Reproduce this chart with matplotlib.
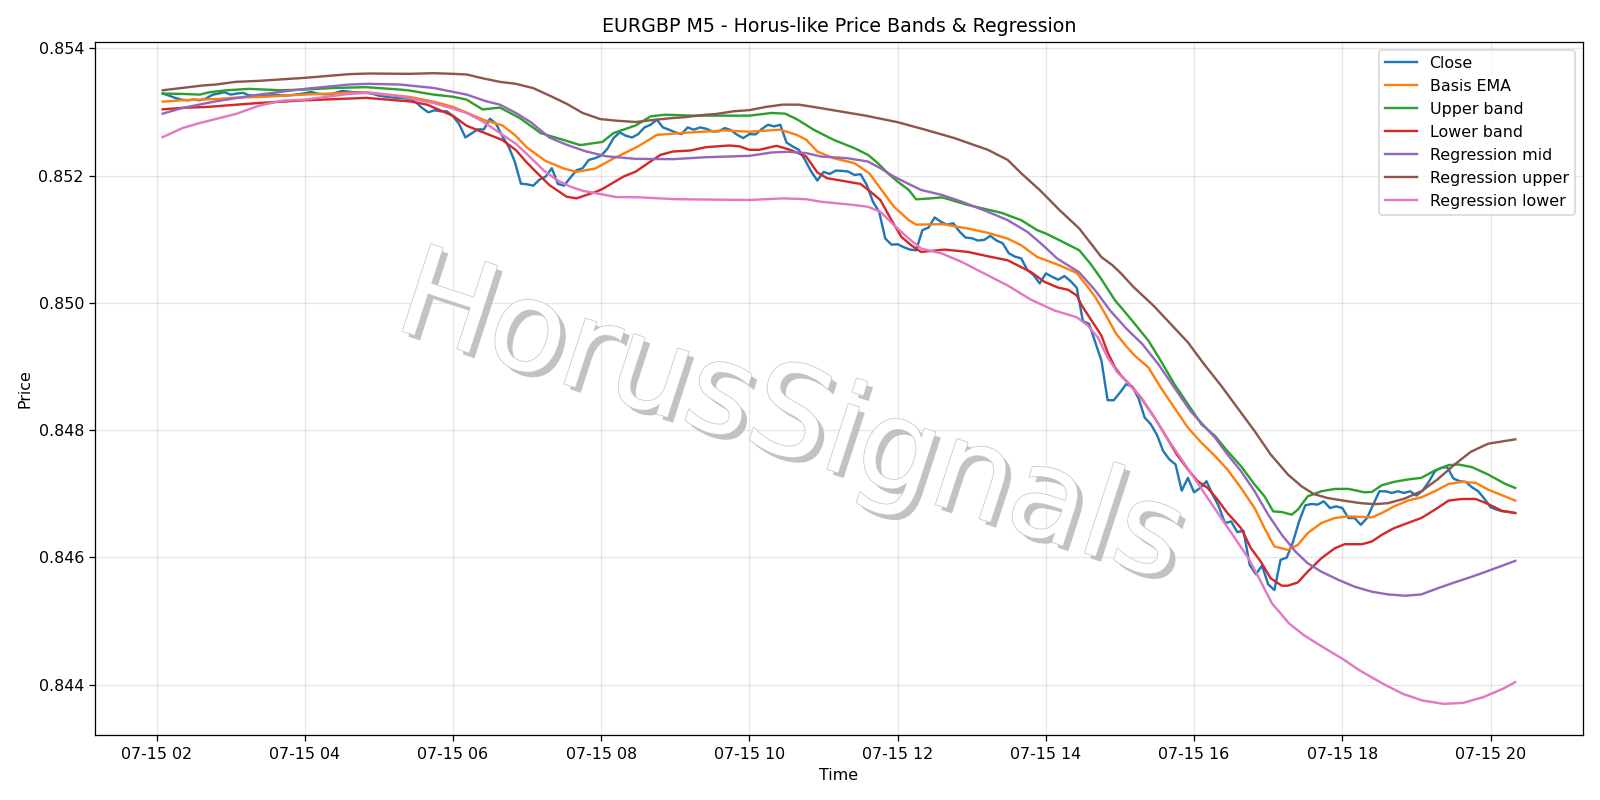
import matplotlib
matplotlib.use("Agg")
import matplotlib.dates as mdates
import matplotlib.patheffects as pe
import matplotlib.pyplot as plt
import pandas as pd

DAY = "2025-07-15 "

# EURGBP M5 closes, 02:05 -> 20:20
close_start = "02:05"
close_vals = [
    0.853290, 0.853258, 0.853222, 0.853195, 0.853184, 0.853195, 0.853184, 0.853211, 0.853269, 0.853290,
    0.853311, 0.853274, 0.853290, 0.853301, 0.853263, 0.853258, 0.853247, 0.853258, 0.853274, 0.853263,
    0.853258, 0.853269, 0.853279, 0.853295, 0.853316, 0.853290, 0.853279, 0.853279, 0.853301, 0.853332,
    0.853321, 0.853311, 0.853311, 0.853301, 0.853285, 0.853258, 0.853242, 0.853231, 0.853222, 0.853216,
    0.853206, 0.853153, 0.853064, 0.852995, 0.853027, 0.853011, 0.853011, 0.852935, 0.852811, 0.852600,
    0.852663, 0.852727, 0.852727, 0.852895, 0.852811, 0.852616, 0.852458, 0.852221, 0.851874, 0.851864,
    0.851843, 0.851937, 0.851985, 0.852117, 0.851869, 0.851843, 0.851969, 0.852085, 0.852117, 0.852248,
    0.852274, 0.852316, 0.852422, 0.852590, 0.852680, 0.852627, 0.852600, 0.852653, 0.852758, 0.852800,
    0.852879, 0.852758, 0.852722, 0.852680, 0.852653, 0.852758, 0.852722, 0.852758, 0.852737, 0.852695,
    0.852695, 0.852748, 0.852716, 0.852643, 0.852590, 0.852653, 0.852648, 0.852733, 0.852800, 0.852774,
    0.852800, 0.852521, 0.852458, 0.852406, 0.852248, 0.852064, 0.851922, 0.852059, 0.852027, 0.852080,
    0.852075, 0.852064, 0.852011, 0.852022, 0.851854, 0.851590, 0.851432, 0.851011, 0.850916, 0.850922,
    0.850875, 0.850838, 0.850827, 0.851143, 0.851185, 0.851343, 0.851275, 0.851227, 0.851253, 0.851122,
    0.851027, 0.851017, 0.850980, 0.850990, 0.851054, 0.850980, 0.850938, 0.850780, 0.850727, 0.850701,
    0.850517, 0.850438, 0.850306, 0.850464, 0.850411, 0.850365, 0.850422, 0.850343, 0.850239, 0.849712,
    0.849670, 0.849381, 0.849092, 0.848471, 0.848471, 0.848591, 0.848723, 0.848681, 0.848503, 0.848197,
    0.848092, 0.847924, 0.847671, 0.847540, 0.847461, 0.847050, 0.847250, 0.847024, 0.847092, 0.847198,
    0.846988, 0.846803, 0.846540, 0.846566, 0.846398, 0.846420, 0.845883, 0.845735, 0.845872, 0.845577,
    0.845488, 0.845962, 0.845998, 0.846240, 0.846566, 0.846819, 0.846840, 0.846830, 0.846882, 0.846777,
    0.846803, 0.846777, 0.846619, 0.846619, 0.846513, 0.846619, 0.846830, 0.847040, 0.847040, 0.847014,
    0.847040, 0.847014, 0.847040, 0.846972, 0.847050, 0.847187, 0.847355, 0.847408, 0.847418, 0.847240,
    0.847198, 0.847187, 0.847103, 0.847040, 0.846924, 0.846788, 0.846751, 0.846724, 0.846714, 0.846698,
]

basis_t = ["02:05", "02:20", "02:35", "02:50", "03:05", "03:25", "04:00", "04:35", "04:50", "05:15",
           "05:25", "05:45", "06:00", "06:10", "06:25", "06:40", "06:50", "07:00", "07:15", "07:30",
           "07:40", "07:55", "08:10", "08:30", "08:45", "09:05", "09:40", "10:00", "10:25", "10:38",
           "10:46", "10:55", "11:08", "11:25", "11:37", "11:46", "11:57", "12:09", "12:15", "12:36",
           "12:57", "13:13", "13:29", "13:40", "13:53", "14:11", "14:25", "14:34", "14:40", "14:48",
           "14:57", "15:05", "15:12", "15:23", "15:33", "15:44", "15:55", "16:06", "16:17", "16:27",
           "16:38", "16:49", "16:57", "17:05", "17:16", "17:24", "17:32", "17:43", "17:54", "18:05",
           "18:24", "18:32", "18:42", "18:53", "19:04", "19:15", "19:26", "19:37", "19:48", "19:58",
           "20:20"]
basis_v = [0.853163, 0.853184, 0.853195, 0.853206, 0.853227, 0.853237, 0.853274, 0.853301, 0.853311, 0.853258,
           0.853237, 0.853160, 0.853080, 0.853000, 0.852875, 0.852790, 0.852640, 0.852440, 0.852230, 0.852110,
           0.852060, 0.852110, 0.852270, 0.852460, 0.852640, 0.852670, 0.852711, 0.852690, 0.852722, 0.852643,
           0.852564, 0.852379, 0.852275, 0.852196, 0.852038, 0.851801, 0.851511, 0.851301, 0.851230, 0.851238,
           0.851169, 0.851101, 0.851011, 0.850906, 0.850722, 0.850591, 0.850470, 0.850250, 0.850091, 0.849828,
           0.849512, 0.849320, 0.849170, 0.848986, 0.848670, 0.848354, 0.848039, 0.847802, 0.847592, 0.847382,
           0.847092, 0.846776, 0.846461, 0.846172, 0.846119, 0.846198, 0.846383, 0.846541, 0.846620, 0.846646,
           0.846630, 0.846698, 0.846803, 0.846893, 0.846945, 0.847040, 0.847155, 0.847188, 0.847172, 0.847067,
           0.846893]

upper_t = ["02:05", "02:20", "02:35", "02:43", "02:57", "03:15", "03:40", "04:00", "04:25", "04:50",
           "05:17", "05:25", "05:44", "06:00", "06:11", "06:24", "06:38", "06:54", "07:11", "07:18",
           "07:29", "07:43", "08:01", "08:10", "08:28", "08:40", "08:52", "09:14", "10:00", "10:18",
           "10:29", "10:39", "10:52", "11:08", "11:25", "11:36", "11:44", "11:52", "12:00", "12:09",
           "12:15", "12:25", "12:36", "12:57", "13:24", "13:40", "13:53", "14:00", "14:11", "14:27",
           "14:36", "14:44", "14:56", "15:03", "15:12", "15:23", "15:33", "15:44", "15:55", "16:06",
           "16:17", "16:27", "16:38", "16:49", "16:57", "17:04", "17:11", "17:19", "17:24", "17:32",
           "17:43", "17:54", "18:05", "18:18", "18:24", "18:32", "18:42", "18:53", "19:04", "19:15",
           "19:26", "19:34", "19:45", "19:58", "20:12", "20:20"]
upper_v = [0.853290, 0.853285, 0.853274, 0.853311, 0.853342, 0.853364, 0.853342, 0.853353, 0.853379, 0.853390,
           0.853353, 0.853337, 0.853274, 0.853240, 0.853195, 0.853040, 0.853070, 0.852906, 0.852669, 0.852627,
           0.852564, 0.852480, 0.852530, 0.852669, 0.852790, 0.852932, 0.852958, 0.852943, 0.852943, 0.852985,
           0.852974, 0.852880, 0.852722, 0.852564, 0.852432, 0.852327, 0.852196, 0.852038, 0.851906, 0.851775,
           0.851628, 0.851640, 0.851659, 0.851538, 0.851416, 0.851301, 0.851143, 0.851091, 0.850985, 0.850828,
           0.850618, 0.850400, 0.850040, 0.849881, 0.849670, 0.849407, 0.849092, 0.848724, 0.848408, 0.848092,
           0.847908, 0.847671, 0.847434, 0.847146, 0.846961, 0.846724, 0.846714, 0.846672, 0.846751, 0.846961,
           0.847040, 0.847077, 0.847077, 0.847024, 0.847030, 0.847135, 0.847188, 0.847225, 0.847251, 0.847367,
           0.847451, 0.847461, 0.847419, 0.847304, 0.847155, 0.847092]

lower_t = ["02:05", "02:20", "02:40", "02:48", "03:05", "03:23", "04:00", "04:35", "04:50", "05:17",
           "05:25", "05:39", "06:00", "06:11", "06:19", "06:40", "06:51", "06:59", "07:07", "07:18",
           "07:32", "07:40", "07:56", "08:01", "08:18", "08:28", "08:39", "08:48", "08:58", "09:12",
           "09:25", "09:44", "09:52", "10:00", "10:08", "10:22", "10:33", "10:46", "10:55", "11:03",
           "11:15", "11:30", "11:38", "11:46", "11:55", "12:03", "12:11", "12:19", "12:38", "12:57",
           "13:13", "13:29", "13:48", "13:59", "14:10", "14:18", "14:25", "14:29", "14:37", "14:45",
           "14:50", "14:56", "15:01", "15:09", "15:17", "15:28", "15:38", "15:46", "15:55", "16:03",
           "16:11", "16:19", "16:27", "16:38", "16:46", "16:54", "17:02", "17:11", "17:16", "17:24",
           "17:32", "17:43", "17:54", "18:02", "18:16", "18:24", "18:32", "18:42", "18:53", "19:04",
           "19:15", "19:26", "19:37", "19:48", "19:58", "20:09", "20:20"]
lower_v = [0.853042, 0.853064, 0.853079, 0.853090, 0.853116, 0.853142, 0.853184, 0.853211, 0.853222, 0.853179,
           0.853168, 0.853116, 0.852940, 0.852785, 0.852722, 0.852560, 0.852400, 0.852222, 0.852064, 0.851853,
           0.851669, 0.851643, 0.851748, 0.851790, 0.851985, 0.852064, 0.852211, 0.852327, 0.852379, 0.852395,
           0.852448, 0.852474, 0.852460, 0.852406, 0.852406, 0.852469, 0.852406, 0.852300, 0.852050, 0.851959,
           0.851920, 0.851869, 0.851748, 0.851617, 0.851301, 0.851038, 0.850906, 0.850801, 0.850838, 0.850801,
           0.850733, 0.850670, 0.850485, 0.850330, 0.850240, 0.850207, 0.850117, 0.849960, 0.849723, 0.849486,
           0.849222, 0.848985, 0.848855, 0.848697, 0.848512, 0.848196, 0.847880, 0.847618, 0.847382, 0.847197,
           0.847092, 0.846908, 0.846698, 0.846461, 0.846145, 0.845935, 0.845672, 0.845556, 0.845556, 0.845608,
           0.845777, 0.845987, 0.846145, 0.846208, 0.846208, 0.846251, 0.846356, 0.846461, 0.846541, 0.846620,
           0.846751, 0.846893, 0.846919, 0.846919, 0.846840, 0.846735, 0.846698]

mid_t = ["02:05", "02:21", "02:48", "03:23", "04:00", "04:36", "04:52", "05:17", "05:44", "06:11",
         "06:27", "06:38", "06:51", "07:03", "07:18", "07:32", "07:48", "08:04", "08:28", "08:58",
         "09:25", "10:00", "10:18", "10:31", "10:46", "10:58", "11:19", "11:36", "11:46", "11:57",
         "12:09", "12:19", "12:36", "12:52", "13:13", "13:29", "13:45", "13:58", "14:09", "14:27",
         "14:40", "14:52", "15:05", "15:18", "15:31", "15:44", "15:57", "16:07", "16:17", "16:27",
         "16:38", "16:49", "17:00", "17:11", "17:22", "17:32", "17:43", "17:57", "18:10", "18:24",
         "18:37", "18:51", "19:04", "19:17", "19:31", "19:45", "19:58", "20:20"]
mid_v = [0.852974, 0.853064, 0.853168, 0.853274, 0.853364, 0.853432, 0.853443, 0.853432, 0.853379, 0.853274,
         0.853168, 0.853116, 0.852985, 0.852840, 0.852600, 0.852485, 0.852379, 0.852305, 0.852264, 0.852259,
         0.852290, 0.852311, 0.852364, 0.852375, 0.852354, 0.852300, 0.852275, 0.852222, 0.852117, 0.851985,
         0.851869, 0.851775, 0.851696, 0.851590, 0.851432, 0.851301, 0.851117, 0.850900, 0.850700, 0.850480,
         0.850196, 0.849881, 0.849600, 0.849355, 0.849039, 0.848670, 0.848302, 0.848092, 0.847881, 0.847618,
         0.847355, 0.847040, 0.846672, 0.846356, 0.846093, 0.845908, 0.845777, 0.845646, 0.845540, 0.845461,
         0.845419, 0.845398, 0.845419, 0.845514, 0.845608, 0.845698, 0.845788, 0.845946]

rupper_t = ["02:05", "02:21", "02:37", "02:48", "03:04", "03:23", "04:00", "04:36", "04:52", "05:25",
            "05:44", "06:00", "06:11", "06:24", "06:38", "06:51", "07:05", "07:18", "07:32", "07:45",
            "07:59", "08:12", "08:28", "08:44", "08:58", "09:06", "09:25", "09:33", "09:47", "10:00",
            "10:13", "10:27", "10:40", "10:57", "11:13", "11:34", "12:00", "12:19", "12:46", "13:13",
            "13:29", "13:40", "13:55", "14:11", "14:27", "14:45", "14:54", "15:01", "15:11", "15:27",
            "15:41", "15:55", "16:08", "16:22", "16:35", "16:49", "17:02", "17:16", "17:27", "17:37",
            "17:48", "18:02", "18:15", "18:26", "18:37", "18:50", "19:04", "19:17", "19:31", "19:44",
            "19:58", "20:20"]
rupper_v = [0.853342, 0.853379, 0.853416, 0.853432, 0.853474, 0.853490, 0.853537, 0.853595, 0.853605, 0.853600,
            0.853610, 0.853600, 0.853590, 0.853530, 0.853474, 0.853443, 0.853375, 0.853260, 0.853130, 0.852985,
            0.852890, 0.852864, 0.852843, 0.852879, 0.852906, 0.852916, 0.852958, 0.852969, 0.853011, 0.853030,
            0.853079, 0.853116, 0.853116, 0.853064, 0.853011, 0.852943, 0.852840, 0.852740, 0.852590, 0.852406,
            0.852248, 0.852038, 0.851775, 0.851460, 0.851170, 0.850720, 0.850591, 0.850460, 0.850249, 0.849960,
            0.849670, 0.849380, 0.849039, 0.848697, 0.848354, 0.847986, 0.847618, 0.847302, 0.847118, 0.846996,
            0.846934, 0.846890, 0.846853, 0.846837, 0.846853, 0.846922, 0.847040, 0.847225, 0.847461, 0.847660,
            0.847787, 0.847856]

rlower_t = ["02:05", "02:21", "02:35", "02:48", "03:05", "03:23", "03:42", "04:00", "04:17", "04:36",
            "04:52", "05:17", "05:44", "05:58", "06:11", "06:24", "06:38", "06:51", "07:02", "07:13",
            "07:24", "07:35", "07:45", "07:59", "08:12", "08:30", "09:00", "10:00", "10:27", "10:46",
            "10:58", "11:25", "11:36", "11:46", "11:57", "12:09", "12:19", "12:36", "12:52", "13:13",
            "13:29", "13:48", "14:07", "14:25", "14:34", "14:42", "14:50", "14:58", "15:06", "15:17",
            "15:28", "15:38", "15:49", "16:00", "16:11", "16:22", "16:33", "16:44", "16:54", "17:03",
            "17:17", "17:29", "17:44", "18:00", "18:14", "18:33", "18:49", "19:05", "19:22", "19:38",
            "19:54", "20:10", "20:20"]
rlower_v = [0.852606, 0.852748, 0.852827, 0.852890, 0.852974, 0.853100, 0.853179, 0.853195, 0.853237, 0.853285,
            0.853301, 0.853247, 0.853142, 0.853064, 0.852985, 0.852853, 0.852669, 0.852500, 0.852300, 0.852090,
            0.851932, 0.851827, 0.851762, 0.851712, 0.851664, 0.851660, 0.851630, 0.851617, 0.851643, 0.851630,
            0.851590, 0.851538, 0.851511, 0.851432, 0.851222, 0.851012, 0.850854, 0.850775, 0.850643, 0.850433,
            0.850275, 0.850050, 0.849881, 0.849775, 0.849644, 0.849460, 0.849144, 0.848907, 0.848749, 0.848512,
            0.848197, 0.847880, 0.847565, 0.847249, 0.846934, 0.846618, 0.846303, 0.845987, 0.845620, 0.845280,
            0.844961, 0.844777, 0.844594, 0.844409, 0.844225, 0.844014, 0.843856, 0.843751, 0.843699, 0.843715,
            0.843804, 0.843936, 0.844041]

SERIES = [
    ("Basis EMA", basis_t, basis_v),
    ("Upper band", upper_t, upper_v),
    ("Lower band", lower_t, lower_v),
    ("Regression mid", mid_t, mid_v),
    ("Regression upper", rupper_t, rupper_v),
    ("Regression lower", rlower_t, rlower_v),
]


def _times(hhmm):
    return pd.to_datetime([DAY + s for s in hhmm])


def main() -> None:
    t_close = pd.date_range(DAY + close_start, periods=len(close_vals), freq="5min")

    fig, ax = plt.subplots(figsize=(14, 7), dpi=1600 / 14)
    ax.plot(t_close, close_vals, label="Close")
    for name, ts, vs in SERIES:
        ax.plot(_times(ts), vs, label=name)

    ax.xaxis.set_major_locator(mdates.HourLocator(byhour=range(0, 24, 2)))
    ax.xaxis.set_major_formatter(mdates.DateFormatter("%m-%d %H"))
    ax.set_title("EURGBP M5 - Horus-like Price Bands & Regression")
    ax.set_xlabel("Time")
    ax.set_ylabel("Price")
    ax.grid(alpha=0.3)
    ax.legend(loc="upper right")

    # watermark
    fig.text(0.494, 0.474, "HorusSignals", fontsize=79, color="white", rotation=-18,
             ha="center", va="center", zorder=0.5,
             path_effects=[pe.SimplePatchShadow(offset=(3.5, -3.5), shadow_rgbFace=(0.72, 0.72, 0.72), alpha=0.85),
                           pe.Stroke(linewidth=1.0, foreground="#c8c8c8"), pe.Normal()])

    fig.tight_layout()
    fig.savefig("out.png", dpi=1600 / 14)
    plt.close(fig)


if __name__ == "__main__":
    main()
